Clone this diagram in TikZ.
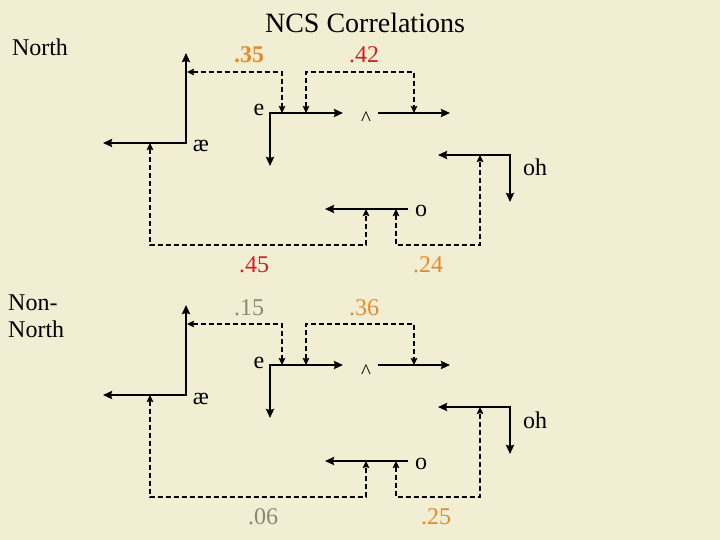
\documentclass[tikz,border=0pt]{standalone}
\usepackage{fontspec}
\setmainfont{Liberation Serif}
\usetikzlibrary{arrows.meta}
\definecolor{bgcream}{RGB}{242,238,212}
\definecolor{corange}{RGB}{230,138,40}
\definecolor{cred}{RGB}{204,34,34}
\definecolor{cgray}{RGB}{136,136,120}
\tikzset{
  solidline/.style={line width=2.8pt, line join=miter, arrows={Stealth[length=9pt,width=8pt,inset=1pt]-Stealth[length=9pt,width=8pt,inset=1pt]}},
  solidone/.style={line width=2.8pt, arrows={-Stealth[length=9pt,width=8pt,inset=1pt]}},
  dashline/.style={line width=2.2pt, dash pattern=on 5pt off 3pt, arrows={Stealth[length=7pt,width=6.5pt,inset=1pt]-Stealth[length=7pt,width=6.5pt,inset=1pt]}},
  lbl/.style={font=\fontsize{24}{28}\selectfont, inner sep=0pt, anchor=base},
  numlbl/.style={font=\fontsize{24}{28}\selectfont, inner sep=0pt, anchor=base},
}
\newcommand\ncspanel[2]{%
  \begin{scope}[shift={(0,#2)}]
    % ae
    \coordinate (#1aeC) at (186,143);
    \coordinate (#1aeU) at (186,53);
    \coordinate (#1aeL) at (103,143);
    \draw[solidline] (#1aeL) -- (#1aeC) -- (#1aeU);
    \node[lbl] (#1aeT) at (201,152) {æ};
    % e
    \coordinate (#1eC) at (270,113);
    \coordinate (#1eR) at (343,113);
    \coordinate (#1eD) at (270,166);
    \draw[solidline] (#1eD) -- (#1eC) -- (#1eR);
    \node[lbl] (#1eT) at (259,116) {e};
    % wedge
    \coordinate (#1uS) at (378,113);
    \coordinate (#1uE) at (450,113);
    \draw[solidone] (#1uS) -- (#1uE);
    \node[lbl, font=\fontsize{21}{24}\selectfont] (#1uT) at (366,126) {\^{}};
    % oh
    \coordinate (#1ohC) at (510,155);
    \coordinate (#1ohL) at (438,155);
    \coordinate (#1ohD) at (510,202);
    \draw[solidline] (#1ohL) -- (#1ohC) -- (#1ohD);
    \node[lbl] (#1ohT) at (535,176) {oh};
    % o
    \coordinate (#1oS) at (408,209);
    \coordinate (#1oE) at (325,209);
    \draw[solidone] (#1oS) -- (#1oE);
    \node[lbl] (#1oT) at (421,217) {o};
    % dashed connectors
    \coordinate (#1dA) at (187,72);
    \coordinate (#1dB) at (282,113);
    \draw[dashline] (#1dA) -| (#1dB);
    \coordinate (#1dC) at (306,113);
    \coordinate (#1dD) at (414,113);
    \draw[dashline] (#1dC) |- (360,72) -| (#1dD);
    \coordinate (#1dE) at (150,143);
    \coordinate (#1dF) at (366,209);
    \draw[dashline] (#1dE) |- (258,245) -| (#1dF);
    \coordinate (#1dG) at (396,209);
    \coordinate (#1dH) at (480,155);
    \draw[dashline] (#1dG) |- (438,245) -| (#1dH);
  \end{scope}}
\begin{document}
\begin{tikzpicture}[x=1pt,y=-1pt]
  \useasboundingbox (0,0) rectangle (720,540);
  \fill[bgcream] (0,0) rectangle (720,540);
  \node[lbl, font=\fontsize{28}{32}\selectfont] (title) at (365,33) {NCS Correlations};
  \node[lbl] (north) at (40,56) {North};
  \node[lbl, anchor=base west] (nonnorth1) at (8,310) {Non-};
  \node[lbl, anchor=base west] (nonnorth2) at (8,337) {North};
  \ncspanel{t}{0}
  \ncspanel{b}{252}
  % top numbers
  \node[numlbl, text=corange, font=\fontsize{24}{28}\bfseries] (n35) at (249,63) {.35};
  \node[numlbl, text=cred] (n42) at (364,63) {.42};
  \node[numlbl, text=cred] (n45) at (254,272) {.45};
  \node[numlbl, text=corange] (n24) at (428,272) {.24};
  % bottom numbers
  \node[numlbl, text=cgray] (n15) at (249,315) {.15};
  \node[numlbl, text=corange] (n36) at (364,315) {.36};
  \node[numlbl, text=cgray] (n06) at (263,524) {.06};
  \node[numlbl, text=corange] (n25) at (436,524) {.25};
\end{tikzpicture}
\end{document}
